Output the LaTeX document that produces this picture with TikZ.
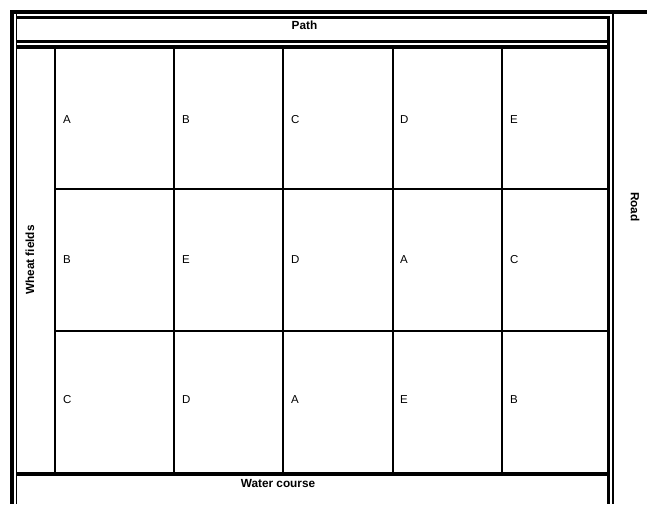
\documentclass[tikz,border=0pt]{standalone}
\usepackage{fontspec}
\setmainfont{Liberation Sans}
\begin{document}
\begin{tikzpicture}[x=1pt,y=-1pt,
  thickln/.style={line width=4pt},
  medln/.style={line width=2.6pt},
  thinln/.style={line width=1.8pt},
  gridln/.style={line width=1.1pt},
  cell/.style={anchor=west,inner sep=0pt,font=\fontsize{11.5}{13}\selectfont},
  lab/.style={inner sep=0pt,font=\fontsize{11.8}{14}\selectfont\bfseries}]
\useasboundingbox (0,0) rectangle (647,504);
% outer frame
\draw[thickln] (10,12) -- (647,12);
\draw[thickln] (12,10) -- (12,504);
\draw[thinln] (16.5,14) -- (16.5,504);
\draw[thinln] (613,14) -- (613,504);
% path box
\draw[medln] (16.5,17.5) -- (608.5,17.5) -- (608.5,41.5) -- (16.5,41.5);
% field box
\draw[thickln] (16,47) -- (610,47);
\draw[thickln] (16,473.5) -- (610,473.5);
\draw[medln] (608.5,41) -- (608.5,504);
% grid
\foreach \x in {55,174,283,393,502} \draw[gridln] (\x,47) -- (\x,473.5);
\foreach \y in {189,331} \draw[gridln] (55,\y) -- (608.5,\y);
% labels
\node[lab] (path) at (304.5,25.5) {Path};
\node[lab] (water) at (278,483) {Water course};
\node[lab,rotate=90] (wheat) at (30,260) {Wheat fields};
\node[lab,rotate=-90] (road) at (635,207) {Road};
% cell letters
\node[cell] (a1) at (63,120) {A};
\node[cell] (b1) at (182,120) {B};
\node[cell] (c1) at (291,120) {C};
\node[cell] (d1) at (400,120) {D};
\node[cell] (e1) at (510,120) {E};
\node[cell] (a2) at (63,260) {B};
\node[cell] (b2) at (182,260) {E};
\node[cell] (c2) at (291,260) {D};
\node[cell] (d2) at (400,260) {A};
\node[cell] (e2) at (510,260) {C};
\node[cell] (a3) at (63,400) {C};
\node[cell] (b3) at (182,400) {D};
\node[cell] (c3) at (291,400) {A};
\node[cell] (d3) at (400,400) {E};
\node[cell] (e3) at (510,400) {B};
\end{tikzpicture}
\end{document}
